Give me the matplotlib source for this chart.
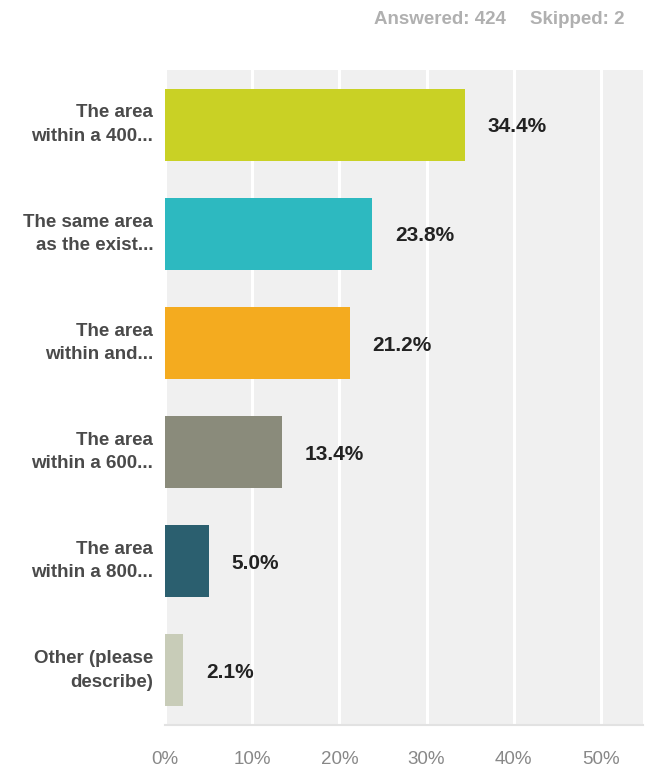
#!/usr/bin/env python

"""Survey response bar chart"""

import matplotlib.pyplot as plt

labels = ['The area\nwithin a 400...', 'The same area\nas the exist...',
          'The area\nwithin and...', 'The area\nwithin a 600...',
          'The area\nwithin a 800...', 'Other (please\ndescribe)']
values = [34.4, 23.8, 21.2, 13.4, 5.0, 2.1]
colours = ['#c9d125', '#2db9c0', '#f4ab1f', '#8a8b7b', '#2b5f6f', '#c8ccb8']
ticks = [0, 10, 20, 30, 40, 50]
answered = 424
skipped = 2

plt.rcParams['font.family'] = ['Liberation Sans', 'DejaVu Sans']

fig = plt.figure(figsize=(6.5, 7.72), dpi=100)
ax = fig.add_axes([0.2538, 0.0609, 0.735, 0.8484])
ax.set_facecolor('#f0f0f0')

pos = list(range(len(values)))
ax.barh(pos, values, height=0.66, color=colours, zorder=2)
ax.set_ylim(len(values) - 0.5, -0.5)
ax.set_xlim(0, 54.8)

# white vertical gridlines
ax.set_xticks(ticks)
ax.xaxis.grid(True, color='white', linewidth=2.2, zorder=1)
ax.set_xticklabels(['%d%%' % t for t in ticks], color='#888888', fontsize=13.5)
ax.tick_params(axis='x', length=0, pad=19)

ax.set_yticks(pos)
ax.set_yticklabels(labels, color='#4a4a4a', fontsize=13.5, fontweight='bold',
                   linespacing=1.5, va='center')
ax.tick_params(axis='y', length=0, pad=8.5)

for s in ['top', 'right', 'left']:
    ax.spines[s].set_visible(False)
ax.spines['bottom'].set_color('#e2e2e2')
ax.spines['bottom'].set_linewidth(1.5)

for p, v in zip(pos, values):
    ax.text(v + 2.6, p + 0.02, '%.1f%%' % v, va='center', ha='left',
            fontsize=15, fontweight='bold', color='#222222', zorder=3)

fig.text(506 / 650, 1 - 20 / 772, 'Answered: %d' % answered,
         ha='right', va='center', fontsize=13.5, fontweight='bold', color='#b0b0b0')
fig.text(625 / 650, 1 - 20 / 772, 'Skipped: %d' % skipped,
         ha='right', va='center', fontsize=13.5, fontweight='bold', color='#b0b0b0')

fig.savefig('out.png', dpi=100)
